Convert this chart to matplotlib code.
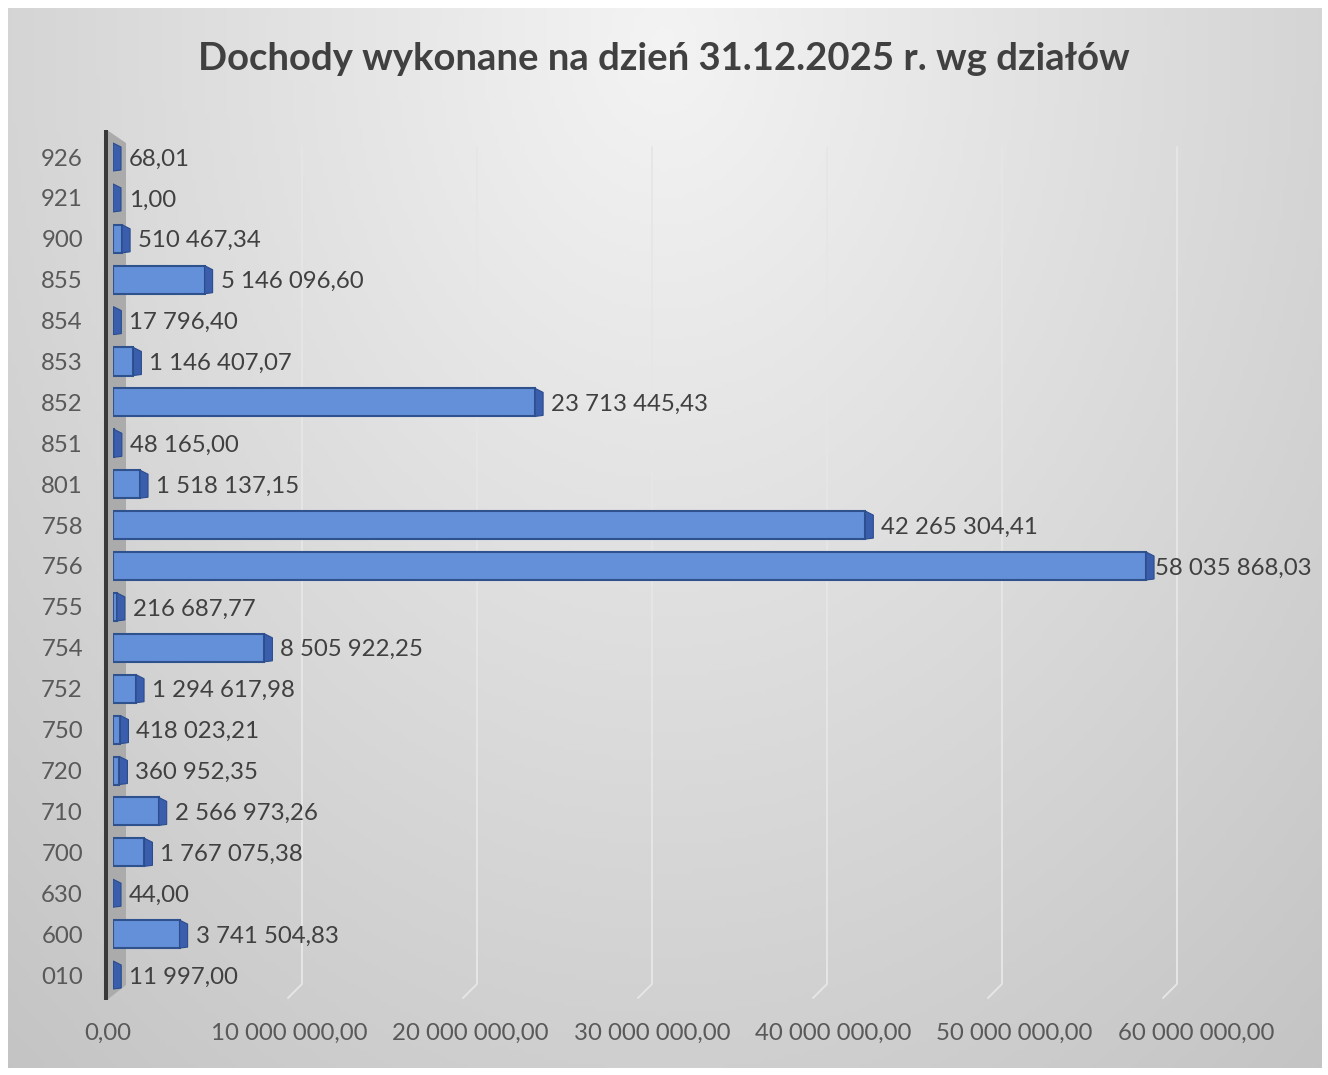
import numpy as np
import matplotlib
matplotlib.use("Agg")
import matplotlib.pyplot as plt
from matplotlib.patches import Polygon

# ---------------- data ----------------
categories = ["010", "600", "630", "700", "710", "720", "750", "752", "754", "755",
              "756", "758", "801", "851", "852", "853", "854", "855", "900", "921", "926"]
values = [11997.00, 3741504.83, 44.00, 1767075.38, 2566973.26, 360952.35, 418023.21,
          1294617.98, 8505922.25, 216687.77, 58035868.03, 42265304.41, 1518137.15,
          48165.00, 23713445.43, 1146407.07, 17796.40, 5146096.60, 510467.34, 1.00, 68.01]
x_ticks = [0, 10_000_000, 20_000_000, 30_000_000, 40_000_000, 50_000_000, 60_000_000]
title = "Dochody wykonane na dzień 31.12.2025 r. wg działów"


def fmt(v):
    return f"{v:,.2f}".replace(",", " ").replace(".", ",")


W, H = 1328, 1075
plt.rcParams['font.family'] = ['Lato', 'DejaVu Sans']
fig = plt.figure(figsize=(W / 100, H / 100), dpi=100)
fig.patch.set_facecolor("white")


def fx(px):
    return px / W


def fy(py):
    return 1 - py / H


# ---------------- background panel with gradient ----------------
P_L, P_T, P_R, P_B = 8, 8, 1322, 1068
bg = fig.add_axes([fx(P_L), fy(P_B), fx(P_R - P_L), (P_B - P_T) / H], zorder=0)
bg.set_axis_off()
gx = np.linspace(P_L, P_R, 300)
gy = np.linspace(P_T, P_B, 240)
GX, GY = np.meshgrid(gx, gy)
r = np.sqrt(((GX - 664) / 820) ** 2 + ((GY - 40) / 1080) ** 2)
val = np.clip(0.955 - 0.15 * r, 0, 1)
img = np.dstack([val, val, val])
bg.imshow(img, aspect="auto", extent=[0, 1, 0, 1], origin="upper")
bg.set_xlim(0, 1)
bg.set_ylim(0, 1)

# ---------------- main axes ----------------
AX_L, AX_R, AX_T, AX_B = 113, 1300, 130, 1000
PX_PER_10M = 178.0
ROW_PX = 40.9
Y0_PX = 975  # centre of first category
ax = fig.add_axes([fx(AX_L), fy(AX_B), fx(AX_R - AX_L), (AX_B - AX_T) / H], zorder=2)
ax.patch.set_visible(False)
xmax = (AX_R - AX_L) / PX_PER_10M * 1e7
ax.set_xlim(0, xmax)
ax.set_ylim(-(AX_B - Y0_PX) / ROW_PX, (Y0_PX - AX_T) / ROW_PX)
for s in ax.spines.values():
    s.set_visible(False)

dxp = 1e7 / PX_PER_10M      # data units per pixel (x)
dyp = 1 / ROW_PX            # data units per pixel (y)


def ypix(py):
    return (Y0_PX - py) * dyp


def xpix(px):
    return (px - AX_L) * dxp


# back-wall gridlines (3D perspective)
for k, t in enumerate(x_ticks[1:], start=1):
    xb = xpix(127 + 175 * k)
    ax.plot([xb, xb, xb - 14 * dxp], [ypix(147), ypix(984), ypix(998)],
            color="#e6e6e6", lw=1.4, zorder=1, clip_on=False, solid_capstyle="round")

# left wall
wall = Polygon([[xpix(107), ypix(130)], [xpix(126), ypix(143)],
                [xpix(126), ypix(985)], [xpix(107), ypix(1000)]],
               closed=True, facecolor="#ababab", edgecolor="none", zorder=2, clip_on=False)
ax.add_patch(wall)
ax.plot([xpix(106), xpix(106)], [ypix(130), ypix(1000)], color="#3a3a3a", lw=2.9,
        zorder=3, clip_on=False, solid_capstyle="butt")

# bars
ypos = np.arange(len(categories))
bh = 28 * dyp
ax.barh(ypos, values, height=bh, left=0, color="#6390d8", edgecolor="#2f528f",
        linewidth=1.5, zorder=4)
for y, v in zip(ypos, values):
    top = y + bh / 2
    bot = y - bh / 2
    side = Polygon([[v, top], [v + 8 * dxp, top - 4 * dyp],
                    [v + 8 * dxp, bot + 1 * dyp], [v, bot]], closed=True,
                   facecolor="#3a5eab", edgecolor="#2a4c8f", lw=0.8, zorder=5)
    ax.add_patch(side)

# value labels
renderer = fig.canvas.get_renderer()
for y, v in zip(ypos, values):
    t = ax.text(v + 16 * dxp, y - 2 * dyp, fmt(v), va="center", ha="left", fontsize=17.3,
                color="#404040", zorder=6)
    bb = t.get_window_extent(renderer=renderer)
    if bb.x1 > 1314:
        t.set_x(v + 9 * dxp)

ax.set_yticks(ypos)
ax.set_yticklabels(categories)
ax.tick_params(axis="y", length=0, pad=21.6, labelsize=17.3, labelcolor="#595959")
ax.set_xticks([])

# x tick labels (front floor edge scale)
LAB0, LAB_PER_10M = 108, 181.3
ax2 = fig.add_axes([fx(LAB0), fy(AX_B), fx(AX_R - LAB0), (AX_B - AX_T) / H], zorder=1)
ax2.patch.set_visible(False)
for s in ax2.spines.values():
    s.set_visible(False)
ax2.set_xlim(0, (AX_R - LAB0) / LAB_PER_10M * 1e7)
ax2.set_xticks(x_ticks)
ax2.set_xticklabels([fmt(t) for t in x_ticks])
ax2.set_yticks([])
ax2.tick_params(axis="x", length=0, pad=16.5, labelsize=17.3, labelcolor="#595959")

fig.text(fx(664), fy(59), title, ha="center", va="center", fontsize=27.5,
         fontweight="bold", color="#404040")

fig.savefig("out.png", dpi=100)
